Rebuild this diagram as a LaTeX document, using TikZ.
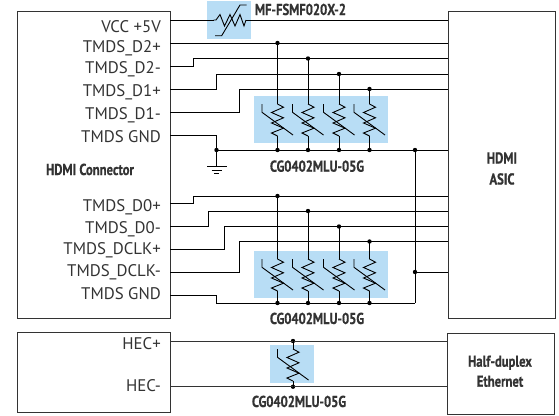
\documentclass[tikz,border=0pt]{standalone}
\usepackage{fontspec}
\setmainfont{PT Sans}
\newfontfamily\condfont[FakeStretch=0.8,BoldFeatures={FakeBold=0.6}]{PT Sans}
\definecolor{ink}{HTML}{333333}
\definecolor{tvsblue}{HTML}{B8DDF5}
\tikzset{
  x=1pt,y=-1pt,
  boxst/.style={draw=ink,line width=1.1pt,fill=white,inner sep=0pt,anchor=north west},
  wire/.style={draw=black,line width=0.95pt,line join=miter},
  sym/.style={draw=black,line width=0.9pt,line join=miter},
  dot/.style={circle,fill=black,inner sep=0pt,minimum size=4.4pt},
  bluebox/.style={fill=tvsblue,draw=none,inner sep=0pt,anchor=north west},
  pin/.style={anchor=base east,inner sep=0pt,text=ink,font=\fontsize{16.8}{19}\selectfont},
  part/.style={anchor=base,inner sep=0pt,text=ink,font=\condfont\bfseries\fontsize{15.8}{18}\selectfont,align=center},
  varistor/.pic={
    \draw[sym] (0,0)--(6,3.2)--(-6,8.5)--(6,13.8)--(-6,19)--(6,24.2)--(-6,29)--(0,32);
    \draw[sym] (-15.5,0)--(-15.5,8.3)--(15.5,31);
  }
}
\begin{document}
\begin{tikzpicture}
\useasboundingbox (0,0) rectangle (559,415);
% boxes
\node[boxst,minimum width=153pt,minimum height=307pt] (conn) at (17,11) {};
\node[boxst,minimum width=153pt,minimum height=80pt] (hecl) at (17,332) {};
\node[boxst,minimum width=107pt,minimum height=307pt] (asic) at (448,11) {};
\node[boxst,minimum width=107pt,minimum height=81pt] (eth) at (447,333) {};
% blue backgrounds
\node[bluebox,minimum width=44pt,minimum height=38pt] (bluea) at (207,1) {};
\node[bluebox,minimum width=134pt,minimum height=47pt] (blueb) at (254,96) {};
\node[bluebox,minimum width=134pt,minimum height=47pt] (bluec) at (254,251) {};
\node[bluebox,minimum width=44pt,minimum height=38pt] (blued) at (270,345) {};
% pin labels
\node[pin] (l1) at (161,32.7) {VCC +5V};
\node[pin] (l2) at (161,52.7) {TMDS\_D2+};
\node[pin] (l3) at (161,73.7) {TMDS\_D2-};
\node[pin] (l4) at (161,96.7) {TMDS\_D1+};
\node[pin] (l5) at (161,119.7) {TMDS\_D1-};
\node[pin] (l6) at (161,142.7) {TMDS GND};
\node[pin] (l7) at (161,211.4) {TMDS\_D0+};
\node[pin] (l8) at (161,233.4) {TMDS\_D0-};
\node[pin] (l9) at (161,254.7) {TMDS\_DCLK+};
\node[pin] (l10) at (161,276.7) {TMDS\_DCLK-};
\node[pin] (l11) at (161,299.7) {TMDS GND};
\node[pin] (l12) at (161,349.7) {HEC+};
\node[pin] (l13) at (161,391.4) {HEC-};
% part labels
\node[part] (t1) at (90,175) {HDMI Connector};
\node[part] (t2) at (300.5,15) {MF-FSMF020X-2};
\node[part] (t3) at (317,171.7) {CG0402MLU-05G};
\node[part] (t4) at (317,324) {CG0402MLU-05G};
\node[part] (t5) at (299,407) {CG0402MLU-05G};
\node[part] (t6) at (502,163.5) {HDMI};
\node[part] (t7) at (502,184.5) {ASIC};
\node[part] (t8) at (500,366.7) {Half-duplex};
\node[part] (t9) at (500,386.7) {Ethernet};
% junctions
\foreach \n/\x/\y in {a1/277.5/43,a2/308/58.5,a3/339/74,a4/369.5/89,
  b1/277.5/150,b2/308/150,b3/339/150,b4/369.5/150,bg/216.5/150,bv/415/150,
  c1/277.5/196,c2/308/211,c3/339/226.5,c4/369.5/241.5,
  d1/277.5/303,d2/308/303,d3/339/303,d4/369.5/303,
  ev/415/272,h1/293/341,h2/293/386.7}
  \node[dot] (\n) at (\x,\y) {};
\coordinate (dv) at (415,303);
% pin anchors
\foreach \n/\y in {p1/20,p2/43,p3/66,p4/89,p5/112,p6/135,p7/203.7,p8/226.5,p9/249.5,p10/272,p11/295}
  \coordinate (\n) at (170,\y);
\foreach \n/\y in {q1/20,q2/43,q3/58.5,q4/74,q5/89,q6/150,q7/196,q8/211,q9/226.5,q10/241.5,q11/272}
  \coordinate (\n) at (448,\y);
% PTC
\coordinate (pa) at (213.5,20);
\coordinate (pb) at (246,20);
\draw[wire] (p1)--(pa);
\draw[wire] (pb)--(q1);
\draw[sym] (pa)--(216,20)--(220,14.5)--(224.5,26)--(230,14.5)--(235,26)--(240,14.5)--(244,26)--(pb);
\draw[sym] (215,35.7)--(221.7,35.7)--(240,5)--(246.7,5);
% top group
\draw[wire] (p2)--(q2);
\draw[wire] (p3)-|(193.5,58.5)--(q3);
\draw[wire] (p4)-|(216.5,74)--(q4);
\draw[wire] (p5)-|(239.5,89)--(q5);
\draw[wire] (p6)-|(bg.center);
\draw[wire] (bg.center)--(q6);
\coordinate (gnd) at (216.5,166.7);
\draw[wire] (bg.center)--(gnd);
\draw[sym] (207,166.7)--(227,166.7) (211.5,170.2)--(221.5,170.2) (214,173.7)--(219,173.7);
% lower group
\draw[wire] (p7)-|(193.5,196)--(q7);
\draw[wire] (p8)-|(208.5,211)--(q8);
\draw[wire] (p9)-|(224,226.5)--(q9);
\draw[wire] (p10)-|(239.5,241.5)--(q10);
\draw[wire] (p11)-|(216.5,303)--(dv);
\draw[wire] (bv.center)--(dv);
\draw[wire] (ev.center)--(q11);
% varistors
\foreach \i/\x in {1/277.5,2/308,3/339,4/369.5}{
  \pic at (\x,104) {varistor};
  \coordinate (vt\i) at (\x,104);
  \coordinate (vb\i) at (\x,136);
  \pic at (\x,259) {varistor};
  \coordinate (wt\i) at (\x,259);
  \coordinate (wb\i) at (\x,291);
  \draw[wire] (a\i.center)--(vt\i);
  \draw[wire] (vb\i)--(b\i.center);
  \draw[wire] (c\i.center)--(wt\i);
  \draw[wire] (wb\i)--(d\i.center);
}
% HEC
\coordinate (hl1) at (170,341);
\coordinate (hl2) at (170,386.7);
\coordinate (hr1) at (447,341);
\coordinate (hr2) at (447,386.7);
\draw[wire,draw=ink] (hl1)--(hr1);
\draw[wire,draw=ink] (hl2)--(hr2);
\pic at (293,349) {varistor};
\coordinate (xt) at (293,349);
\coordinate (xb) at (293,381);
\draw[wire] (h1.center)--(xt);
\draw[wire] (xb)--(h2.center);
\end{tikzpicture}
\end{document}
